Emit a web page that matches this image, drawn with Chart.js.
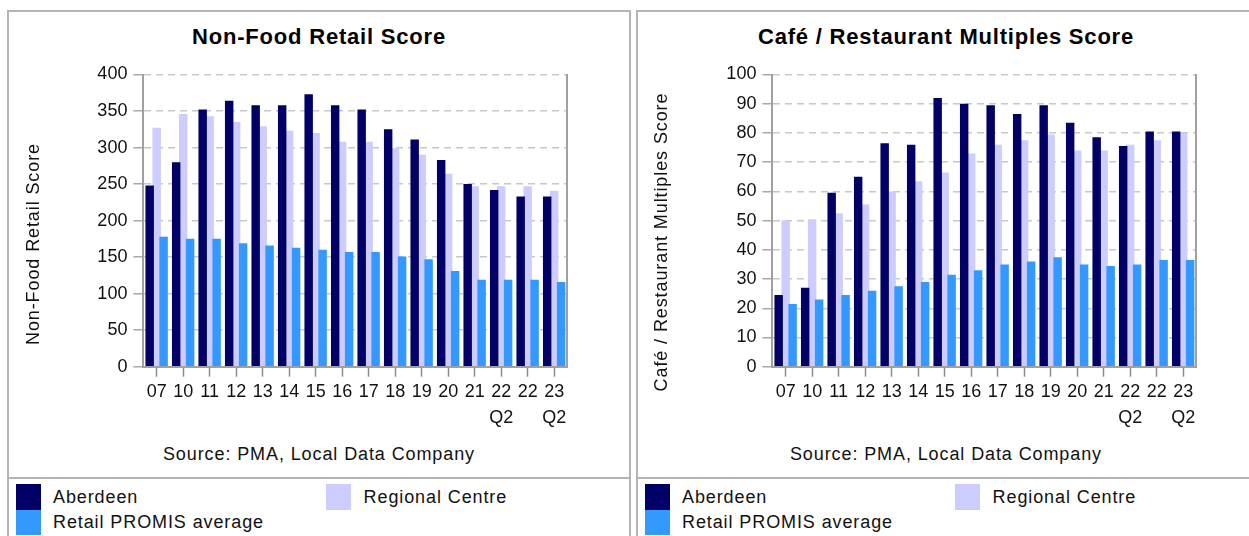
<!DOCTYPE html>
<html>
<head>
<meta charset="utf-8">
<script src="https://cdn.jsdelivr.net/npm/chart.js@4.4.0/dist/chart.umd.min.js"></script>
<style>
  html, body { margin: 0; padding: 0; background: #fff; }
  body { width: 1249px; height: 536px; position: relative; overflow: hidden;
         font-family: 'Liberation Sans', Arial, sans-serif; color: #111; }
  .panel { position: absolute; top: 10px; height: 560px; border: 2px solid #b4b4b4; box-sizing: border-box; }
  #panel1 { left: 7px; width: 624px; }
  #panel2 { left: 636px; width: 620px; }
  .panel canvas { position: absolute; left: 0; top: 0; }
  .title { position: absolute; left: 0; top: 12px; width: 616px; text-align: center;
           font-weight: bold; font-size: 22px; line-height: 26px; letter-spacing: 0.8px; color: #000; }
  #panel1 .title { width: 620px; }
  .ytitle { position: absolute; transform: translate(-50%, -50%) rotate(-90deg); white-space: nowrap;
            font-size: 18px; line-height: 20px; letter-spacing: 0.9px; }
  .source { position: absolute; left: 0; top: 432px; width: 616px; text-align: center;
            font-size: 18px; line-height: 20px; letter-spacing: 0.9px; }
  #panel1 .source { width: 620px; }
  .divider { position: absolute; left: 0; right: 0; top: 465px; height: 2px; background: #b4b4b4; }
  .swatch { position: absolute; width: 25px; }
  .key { position: absolute; font-size: 18px; line-height: 20px; letter-spacing: 0.9px; white-space: nowrap; }
</style>
</head>
<body>

<div class="panel" id="panel1">
  <div class="title">Non-Food Retail Score</div>
  <canvas id="nonFoodChart" width="620" height="415"></canvas>
  <div class="ytitle" style="left:24px; top:232px;">Non-Food Retail Score</div>
  <div class="source">Source: PMA, Local Data Company</div>
  <div class="divider"></div>
  <div class="legend" id="legend1"></div>
</div>

<div class="panel" id="panel2">
  <div class="title">Café / Restaurant Multiples Score</div>
  <canvas id="cafeChart" width="611" height="415"></canvas>
  <div class="ytitle" style="left:23px; top:230px;">Café / Restaurant Multiples Score</div>
  <div class="source">Source: PMA, Local Data Company</div>
  <div class="divider"></div>
  <div class="legend" id="legend2"></div>
</div>

<script>
// Survey periods along the x axis (two-line labels for the mid-year Q2 surveys)
const categoryLabels = ['07', '10', '11', '12', '13', '14', '15', '16', '17', '18', '19', '20', '21',
                        ['22', 'Q2'], '22', ['23', 'Q2']];

// Non-Food Retail Score
const nonFoodAberdeen = [248, 280, 352, 364, 358, 358, 373, 358, 352, 325, 311, 283, 250, 242, 233, 233];
const nonFoodRegional = [327, 346, 343, 335, 329, 323, 320, 308, 308, 299, 290, 264, 247, 247, 247, 241];
const nonFoodPromis   = [178, 175, 175, 169, 166, 163, 160, 157, 157, 151, 147, 131, 119, 119, 119, 116];

// Café / Restaurant Multiples Score
const cafeAberdeen = [24.5, 27, 59.5, 65, 76.5, 76, 92, 90, 89.5, 86.5, 89.5, 83.5, 78.5, 75.5, 80.5, 80.5];
const cafeRegional = [50, 50.5, 52.5, 55.5, 60, 63.5, 66.5, 73, 76, 77.5, 79.5, 74, 74, 76, 77.5, 80];
const cafePromis   = [21.5, 23, 24.5, 26, 27.5, 29, 31.5, 33, 35, 36, 37.5, 35, 34.5, 35, 36.5, 36.5];

// Value axes: 0..max in fixed steps
const nonFoodAxis = { max: 400, step: 50 };
const cafeAxis = { max: 100, step: 10 };

const seriesNames = ['Aberdeen', 'Regional Centre', 'Retail PROMIS average'];
const seriesColours = ['#000066', '#ccccff', '#3399ff'];

Chart.defaults.font.family = "'Liberation Sans', Arial, sans-serif";
Chart.defaults.font.size = 18;
Chart.defaults.color = '#111';

// The Regional Centre bars sit behind both neighbours: draw them first, skip them in the normal pass.
const regionalUnderneath = {
  id: 'regionalUnderneath',
  beforeDatasetsDraw(chart) {
    const meta = chart.getDatasetMeta(1);
    if (meta.visible) meta.controller.draw();
  },
  beforeDatasetDraw(chart, args) {
    if (args.index === 1) return false;
  }
};

function buildChart(canvasId, series, axis, padRight) {
  return new Chart(document.getElementById(canvasId), {
    type: 'bar',
    data: {
      labels: categoryLabels,
      datasets: series.map((values, i) => ({
        label: seriesNames[i],
        data: values,
        backgroundColor: seriesColours[i],
        borderWidth: 0,
        categoryPercentage: 0.79,
        barPercentage: 1.21
      }))
    },
    options: {
      responsive: false,
      animation: false,
      devicePixelRatio: 1,
      events: [],
      layout: { padding: { left: 0, top: 62.5, right: padRight, bottom: 0 } },
      plugins: {
        legend: { display: false },
        tooltip: { enabled: false },
        title: { display: false }
      },
      scales: {
        x: {
          grid: { display: true, drawOnChartArea: false, offset: false,
                  tickLength: 10, tickColor: '#8c8c8c', tickWidth: 1.5 },
          border: { display: true, color: '#a0a0a0', width: 2 },
          ticks: { padding: 3, maxRotation: 0, minRotation: 0, autoSkip: false,
                   font: { size: 18, lineHeight: 1.42 }, color: '#111' },
          afterFit(scale) { scale.height = 60.3; }
        },
        y: {
          min: 0,
          max: axis.max,
          ticks: { stepSize: axis.step, padding: 6, color: '#111', font: { size: 18 } },
          grid: {
            color: ctx => (ctx.tick && ctx.tick.value === 0) ? 'rgba(0,0,0,0)' : '#c8c8c8',
            lineWidth: 1.5,
            tickLength: 10,
            tickColor: '#a8a8a8',
            tickWidth: 1.5
          },
          border: { display: true, color: '#a0a0a0', width: 2, dash: [7, 5] },
          afterFit(scale) { scale.width = 134.4; }
        },
        frameRight: {
          type: 'linear',
          position: 'right',
          min: 0,
          max: axis.max,
          ticks: { display: false },
          grid: { display: false, drawTicks: false },
          border: { display: true, color: '#a0a0a0', width: 2 },
          afterFit(scale) { scale.width = 0; }
        }
      }
    },
    plugins: [regionalUnderneath]
  });
}

function buildLegend(id) {
  const el = document.getElementById(id);
  const items = [
    { name: seriesNames[0], colour: seriesColours[0], sx: 7, sy: 472, sh: 26, tx: 44, ty: 474.7 },
    { name: seriesNames[1], colour: seriesColours[1], sx: 317, sy: 472, sh: 26, tx: 354.6, ty: 474.7 },
    { name: seriesNames[2], colour: seriesColours[2], sx: 7, sy: 498, sh: 25, tx: 44, ty: 499.7 }
  ];
  items.forEach(it => {
    const sw = document.createElement('div');
    sw.className = 'swatch';
    sw.style.cssText = `left:${it.sx}px;top:${it.sy}px;height:${it.sh}px;background:${it.colour};`;
    el.appendChild(sw);
    const tx = document.createElement('div');
    tx.className = 'key';
    tx.style.cssText = `left:${it.tx}px;top:${it.ty}px;`;
    tx.textContent = it.name;
    el.appendChild(tx);
  });
}

buildChart('nonFoodChart', [nonFoodAberdeen, nonFoodRegional, nonFoodPromis], nonFoodAxis, 61.6);
buildChart('cafeChart', [cafeAberdeen, cafeRegional, cafePromis], cafeAxis, 52.6);
buildLegend('legend1');
buildLegend('legend2');
</script>
</body>
</html>
